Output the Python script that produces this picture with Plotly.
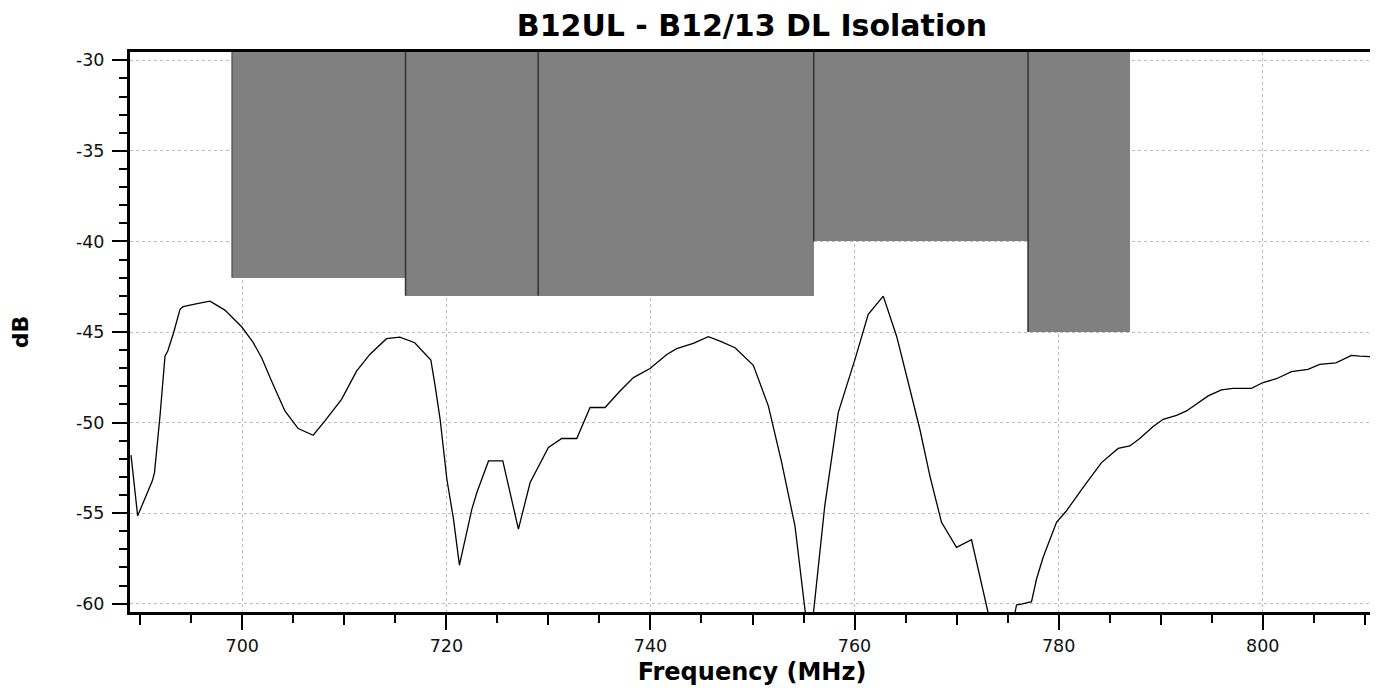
import plotly.graph_objects as go

# ---------------- data ----------------
freq_mhz = [
    689.1, 689.75, 691.19, 691.4, 691.94, 692.43, 692.7, 693.27, 693.9, 694.2,
    695.7, 696.84, 698.3, 699.94, 701.08, 701.9, 702.87, 704.18, 705.48, 706.95,
    708.1, 709.73, 711.2, 712.5, 714.13, 715.44, 716.9, 718.48, 718.9, 719.39,
    720.05, 720.7, 721.28, 722.5, 722.99, 724.13, 725.53, 727.06, 728.21, 730.0,
    731.31, 732.78, 734.08, 735.55, 737.02, 738.33, 739.96, 741.6, 742.57, 744.2,
    745.67, 746.82, 748.29, 750.08, 751.55, 752.86, 754.16, 755.6, 757.08, 758.4,
    760.04, 761.34, 762.81, 764.12, 765.1, 766.4, 767.38, 768.52, 769.99, 771.46,
    774.5, 775.87, 776.36, 777.34, 777.83, 778.48, 779.79, 780.77, 782.4, 784.2,
    785.83, 786.97, 787.95, 789.26, 790.24, 791.55, 792.53, 793.51, 794.65, 795.95,
    797.09, 798.89, 800.03, 801.34, 802.81, 804.43, 805.58, 807.17, 808.69, 809.5,
    810.48, 811.0,
]
isolation_db = [
    -51.8, -55.15, -53.22, -52.76, -49.64, -46.33, -46.05, -45.04, -43.75, -43.6,
    -43.42, -43.3, -43.79, -44.71, -45.59, -46.42, -47.71, -49.36, -50.33, -50.7,
    -49.91, -48.72, -47.16, -46.24, -45.37, -45.28, -45.59, -46.55, -47.98, -49.82,
    -53.13, -55.33, -57.87, -54.78, -53.86, -52.12, -52.12, -55.88, -53.31, -51.38,
    -50.88, -50.88, -49.17, -49.17, -48.26, -47.52, -47.02, -46.24, -45.92, -45.63,
    -45.26, -45.5, -45.87, -46.84, -49.08, -52.21, -55.7, -62.5, -54.6, -49.45,
    -46.51, -44.03, -43.02, -45.23, -47.43, -50.37, -52.94, -55.51, -56.89, -56.47,
    -64.0, -60.07, -60.02, -59.89, -58.64, -57.44, -55.51, -54.87, -53.58, -52.21,
    -51.43, -51.29, -50.88, -50.22, -49.82, -49.6, -49.36, -48.99, -48.53, -48.2,
    -48.11, -48.11, -47.79, -47.58, -47.19, -47.06, -46.79, -46.7, -46.29, -46.33,
    -46.36, -46.3,
]

band_start_mhz = [699, 716, 729, 756, 777]
band_end_mhz = [716, 729, 756, 777, 787]
band_limit_db = [-42, -43, -43, -40, -45]

x_tick_vals = [700, 720, 740, 760, 780, 800]
y_tick_vals = [-30, -35, -40, -45, -50, -55, -60]

title_text = "B12UL - B12/13 DL Isolation"
x_title = "Frequency (MHz)"
y_title = "dB"

# ---------------- styling ----------------
X_RANGE = [689.0, 810.9]
Y_RANGE = [-60.46, -29.54]
BAND_TOP = -29.0
FONT = "DejaVu Sans"
# the page body has an 8px default margin, so the figure is drawn 8px smaller
PAGE_PAD = 8
FIG_W, FIG_H = 1378 - PAGE_PAD, 688 - PAGE_PAD

fig = go.Figure()

# limit bands
fig.add_trace(go.Bar(
    x=[(s + e) / 2 for s, e in zip(band_start_mhz, band_end_mhz)],
    y=[BAND_TOP - l for l in band_limit_db],
    base=band_limit_db,
    width=[e - s for s, e in zip(band_start_mhz, band_end_mhz)],
    marker=dict(color="#808080", line=dict(width=0)),
    hoverinfo="skip",
    showlegend=False,
))

# measured isolation curve
fig.add_trace(go.Scatter(
    x=freq_mhz, y=isolation_db, mode="lines",
    line=dict(color="black", width=1.3),
    showlegend=False,
))

# left edges of bands (drawn on overlay axis that carries 10 MHz ticks);
# the outer left edge is lighter than the separators between bands
edge_groups = [(band_start_mhz[:1], band_limit_db[:1], "#5e5e5e"),
               (band_start_mhz[1:], band_limit_db[1:], "#333333")]
for starts, limits, col in edge_groups:
    edge_x, edge_y = [], []
    for s, l in zip(starts, limits):
        edge_x += [s, s, None]
        edge_y += [l, BAND_TOP, None]
    fig.add_trace(go.Scatter(
        x=edge_x, y=edge_y, mode="lines",
        line=dict(color=col, width=1.5),
        xaxis="x2", hoverinfo="skip", showlegend=False,
    ))

fig.update_layout(
    width=FIG_W, height=FIG_H,
    margin=dict(l=130 - PAGE_PAD, r=4, t=52 - PAGE_PAD, b=76, autoexpand=False),
    paper_bgcolor="white", plot_bgcolor="white",
    showlegend=False,
    bargap=0,
    font=dict(family=FONT, size=17.5, color="#111111"),
    title=dict(
        text=f"<b>{title_text}</b>", x=0.5, xref="paper", xanchor="center",
        y=1 - (25 - PAGE_PAD) / FIG_H, yref="container", yanchor="middle",
        font=dict(family=FONT, size=30, color="black"),
    ),
    xaxis=dict(
        range=X_RANGE, tickmode="array", tickvals=x_tick_vals,
        ticktext=[str(v) for v in x_tick_vals],
        ticks="outside", ticklen=15, tickwidth=2, tickcolor="black",
        ticklabelstandoff=1,
        showline=True, linewidth=3, linecolor="black", mirror=True,
        showgrid=True, gridcolor="#bdbdbd", griddash="dot", gridwidth=1,
        zeroline=False,
        minor=dict(tickmode="linear", tick0=0, dtick=5, ticks="outside",
                   ticklen=8, tickwidth=2, tickcolor="black", showgrid=False),
        title=dict(text=f"<b>{x_title}</b>", font=dict(family=FONT, size=24, color="black"),
                   standoff=9),
    ),
    xaxis2=dict(
        overlaying="x", anchor="y", side="bottom", range=X_RANGE,
        tickmode="linear", tick0=0, dtick=10, ticks="outside", ticklen=12,
        tickwidth=2, tickcolor="black", showticklabels=False,
        showgrid=False, showline=False, zeroline=False,
    ),
    yaxis=dict(
        range=Y_RANGE, tickmode="array", tickvals=y_tick_vals,
        ticktext=[str(v) for v in y_tick_vals],
        ticks="outside", ticklen=15, tickwidth=2, tickcolor="black",
        ticklabelstandoff=4,
        showline=True, linewidth=3, linecolor="black", mirror=True,
        showgrid=True, gridcolor="#bdbdbd", griddash="dot", gridwidth=1,
        zeroline=False,
        minor=dict(tickmode="linear", tick0=0, dtick=1, ticks="outside",
                   ticklen=8, tickwidth=2, tickcolor="black", showgrid=False),
        title=dict(text=f"<b>{y_title}</b>", font=dict(family=FONT, size=22, color="black"),
                   standoff=50),
    ),
)

fig.write_html("out.html")
